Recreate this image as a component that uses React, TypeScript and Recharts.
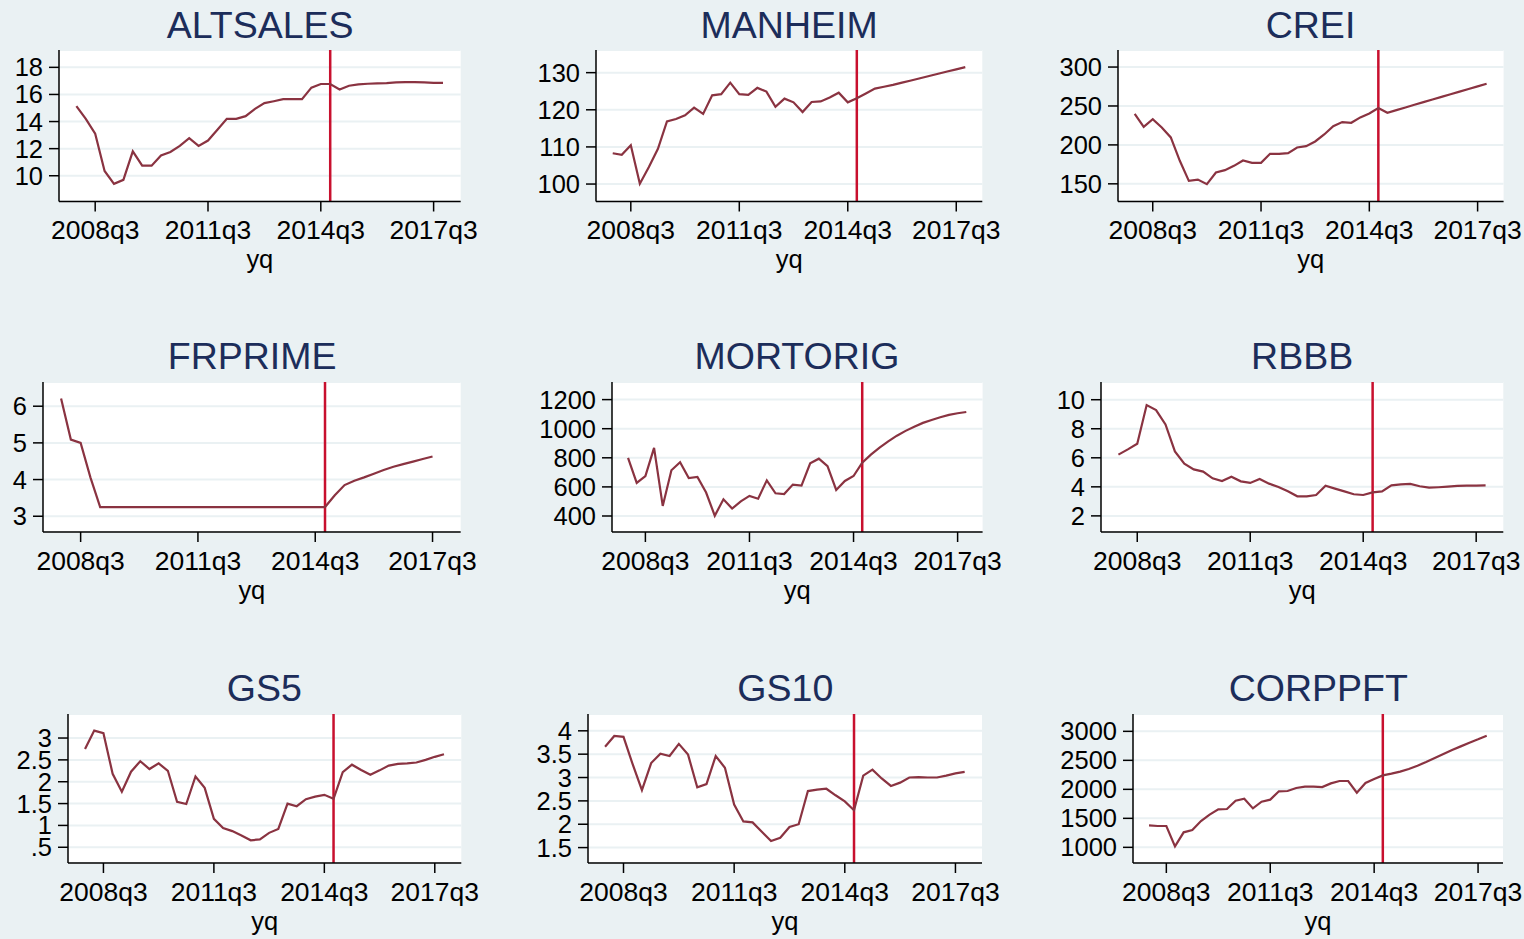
import React from "react";
import {
  LineChart,
  Line,
  XAxis,
  YAxis,
  CartesianGrid,
  ReferenceLine,
} from "recharts";

// quarterly axis, 2008q1 .. 2017q4
const QUARTERS = [
  "2008q1", "2008q2", "2008q3", "2008q4",
  "2009q1", "2009q2", "2009q3", "2009q4",
  "2010q1", "2010q2", "2010q3", "2010q4",
  "2011q1", "2011q2", "2011q3", "2011q4",
  "2012q1", "2012q2", "2012q3", "2012q4",
  "2013q1", "2013q2", "2013q3", "2013q4",
  "2014q1", "2014q2", "2014q3", "2014q4",
  "2015q1", "2015q2", "2015q3", "2015q4",
  "2016q1", "2016q2", "2016q3", "2016q4",
  "2017q1", "2017q2", "2017q3", "2017q4",
];
const X_TICKS = ["2008q3", "2011q3", "2014q3", "2017q3"];
const FORECAST_START = "2014q4";

const ALTSALES = [
  15.14, 14.2, 13.1, 10.35, 9.4, 9.7, 11.8, 10.74, 10.74, 11.5,
  11.75, 12.2, 12.77, 12.2, 12.6, 13.4, 14.2, 14.2, 14.4, 14.94,
  15.36, 15.5, 15.65, 15.65, 15.65, 16.5, 16.77, 16.77, 16.37, 16.64,
  16.74, 16.79, 16.81, 16.84, 16.89, 16.91, 16.91, 16.89, 16.86, 16.86,
];
const MANHEIM = [
  108.3, 107.9, 110.45, 100.1, 104.6, 109.5, 116.85, 117.5, 118.5, 120.6,
  118.9, 123.9, 124.2, 127.3, 124.2, 124, 125.9, 124.9, 120.8, 123,
  122, 119.4, 122.1, 122.25, 123.3, 124.6, 122, 123.1, 124.4, 125.7,
  126.2, 126.7, 127.3, 127.9, 128.5, 129.1, 129.7, 130.3, 130.9, 131.5,
];
const CREI = [
  240, 223.3, 233.1, 222.4, 209.6, 179.6, 153.8, 155.5, 149.6, 164.6,
  167.6, 173.1, 180, 177, 177, 188.6, 188.6, 189.4, 196.7, 198.4,
  204.4, 213.4, 224.1, 229.3, 228.4, 235.3, 240.4, 247.3, 241.3, 244.7,
  248.1, 251.5, 254.9, 258.3, 261.7, 265.1, 268.4, 271.8, 275.2, 278.6,
];
const FRPRIME = [
  6.21, 5.09, 5.0, 4.06, 3.25, 3.25, 3.25, 3.25, 3.25, 3.25,
  3.25, 3.25, 3.25, 3.25, 3.25, 3.25, 3.25, 3.25, 3.25, 3.25,
  3.25, 3.25, 3.25, 3.25, 3.25, 3.25, 3.25, 3.25, 3.57, 3.85,
  3.97, 4.06, 4.16, 4.26, 4.35, 4.42, 4.49, 4.56, 4.63, null,
];
const MORTORIG = [
  799, 627, 675, 868, 469, 714, 769, 661, 668, 561,
  402, 515, 451, 501, 538, 519, 645, 556, 551, 616,
  609, 762, 794, 742, 579, 641, 675, 767, 822, 870,
  913, 952, 985, 1014, 1040, 1060, 1079, 1095, 1106, 1115,
];
const RBBB = [
  6.22, 6.58, 6.97, 9.63, 9.29, 8.3, 6.44, 5.6, 5.2, 5.05,
  4.59, 4.4, 4.7, 4.38, 4.27, 4.54, 4.22, 3.99, 3.69, 3.35,
  3.35, 3.44, 4.08, 3.88, 3.69, 3.49, 3.44, 3.62, 3.69, 4.1,
  4.17, 4.2, 4.04, 3.94, 3.97, 4.01, 4.06, 4.08, 4.08, 4.1,
];
const GS5 = [
  2.75, 3.17, 3.11, 2.18, 1.77, 2.23, 2.47, 2.29, 2.42, 2.25,
  1.54, 1.49, 2.12, 1.86, 1.15, 0.94, 0.87, 0.77, 0.66, 0.68,
  0.83, 0.92, 1.5, 1.44, 1.6, 1.66, 1.7, 1.61, 2.22, 2.39,
  2.27, 2.16, 2.26, 2.37, 2.41, 2.42, 2.44, 2.5, 2.57, 2.63,
];
const GS10 = [
  3.66, 3.89, 3.87, 3.28, 2.73, 3.31, 3.51, 3.46, 3.72, 3.49,
  2.79, 2.86, 3.46, 3.21, 2.42, 2.06, 2.04, 1.84, 1.64, 1.71,
  1.94, 2.0, 2.71, 2.74, 2.76, 2.62, 2.49, 2.3, 3.04, 3.17,
  2.98, 2.82, 2.89, 3.0, 3.01, 3.0, 3.0, 3.04, 3.09, 3.12,
];
const CORPPFT = [
  1379, 1368, 1368, 1017, 1259, 1299, 1454, 1563, 1655, 1661,
  1805, 1839, 1672, 1787, 1822, 1966, 1971, 2023, 2046, 2046,
  2040, 2103, 2144, 2144, 1943, 2109, 2178, 2241, 2270, 2305,
  2351, 2408, 2471, 2540, 2609, 2678, 2741, 2805, 2862, 2925,
];

const BG = "#eaf1f3";
const TITLE_COLOR = "#1c2d5a";
const LINE_COLOR = "#8a3341";
const VLINE_COLOR = "#c8102e";
const FONT = '"Liberation Sans", Arial, Helvetica, sans-serif';
const X_TICK_FONT = 26.5;
const Y_TICK_FONT = 25.5;
const TITLE_FONT = 37.5;

const X_DOMAIN: [number, number] = [-1.85, 40.88];
const X_TICK_IDX = X_TICKS.map((q) => QUARTERS.indexOf(q));
const FORECAST_IDX = QUARTERS.indexOf(FORECAST_START);

// plot-region rows: top/bottom of the white area, title baseline
const ROWS = [
  { top: 49.5, bottom: 201, titleY: 37.5 },
  { top: 381.7, bottom: 531.7, titleY: 369 },
  { top: 714.3, bottom: 863.3, titleY: 700.5 },
];

type Panel = {
  title: string;
  values: (number | null)[];
  yTicks: number[];
  yDomain: [number, number];
  row: number;
  left: number;
  right: number;
};

const PANELS: Panel[] = [
  { title: "ALTSALES", values: ALTSALES, yTicks: [10, 12, 14, 16, 18], yDomain: [8.1, 19.28], row: 0, left: 59.3, right: 461 },
  { title: "MANHEIM", values: MANHEIM, yTicks: [100, 110, 120, 130], yDomain: [95.3, 136.1], row: 0, left: 596, right: 982.3 },
  { title: "CREI", values: CREI, yTicks: [150, 200, 250, 300], yDomain: [127.3, 321.9], row: 0, left: 1117.7, right: 1503.3 },
  { title: "FRPRIME", values: FRPRIME, yTicks: [3, 4, 5, 6], yDomain: [2.57, 6.66], row: 1, left: 43.3, right: 461 },
  { title: "MORTORIG", values: MORTORIG, yTicks: [400, 600, 800, 1000, 1200], yDomain: [290, 1321], row: 1, left: 611.7, right: 982.3 },
  { title: "RBBB", values: RBBB, yTicks: [2, 4, 6, 8, 10], yDomain: [0.89, 11.22], row: 1, left: 1101, right: 1503.3 },
  { title: "GS5", values: GS5, yTicks: [0.5, 1, 1.5, 2, 2.5, 3], yDomain: [0.14, 3.55], row: 2, left: 67.7, right: 461 },
  { title: "GS10", values: GS10, yTicks: [1.5, 2, 2.5, 3, 3.5, 4], yDomain: [1.17, 4.36], row: 2, left: 588.3, right: 982.3 },
  { title: "CORPPFT", values: CORPPFT, yTicks: [1000, 1500, 2000, 2500, 3000], yDomain: [730, 3299], row: 2, left: 1133.3, right: 1503.3 },
];

const Y_AXIS_W = 90;
const X_AXIS_H = 80;
const PAD_TOP = 10;
const PAD_RIGHT = 60;

// Stata drops the leading zero: 0.5 -> ".5"
const stataNum = (v: number) => (v > 0 && v < 1 ? String(v).slice(1) : String(v));

const xTickStyle = { fill: "#000", fontSize: X_TICK_FONT, fontFamily: FONT };
const yTickStyle = { fill: "#000", fontSize: Y_TICK_FONT, fontFamily: FONT };
const axisStroke = { stroke: "#000", strokeWidth: 1.5 };

function SeriesPanel({ p }: { p: Panel }) {
  const row = ROWS[p.row];
  const plotW = p.right - p.left;
  const plotH = row.bottom - row.top;
  const data = QUARTERS.map((q, t) => ({ t, q, v: p.values[t] ?? null }));

  return (
    <div style={{ position: "absolute", left: p.left - Y_AXIS_W, top: row.top - PAD_TOP }}>
      <LineChart
        width={Y_AXIS_W + plotW + PAD_RIGHT}
        height={PAD_TOP + plotH + X_AXIS_H}
        data={data}
        margin={{ top: PAD_TOP, right: PAD_RIGHT, bottom: 0, left: 0 }}
      >
        <CartesianGrid vertical={false} fill="#ffffff" stroke={BG} strokeWidth={2} />
        <XAxis
          type="number"
          dataKey="t"
          domain={X_DOMAIN}
          allowDataOverflow
          ticks={X_TICK_IDX}
          interval={0}
          tickFormatter={(t: number) => QUARTERS[t]}
          height={X_AXIS_H}
          tickSize={10}
          tickMargin={9}
          axisLine={axisStroke}
          tickLine={axisStroke}
          tick={xTickStyle}
          label={{ value: "yq", position: "insideBottom", offset: 13, fill: "#000", fontSize: Y_TICK_FONT, fontFamily: FONT }}
        />
        <YAxis
          type="number"
          domain={p.yDomain}
          allowDataOverflow
          ticks={p.yTicks}
          interval={0}
          tickFormatter={stataNum}
          width={Y_AXIS_W}
          tickSize={10}
          tickMargin={6}
          axisLine={axisStroke}
          tickLine={axisStroke}
          tick={yTickStyle}
        />
        <ReferenceLine x={FORECAST_IDX} stroke={VLINE_COLOR} strokeWidth={2.5} />
        <Line
          type="linear"
          dataKey="v"
          stroke={LINE_COLOR}
          strokeWidth={2.2}
          dot={false}
          activeDot={false}
          isAnimationActive={false}
        />
      </LineChart>
    </div>
  );
}

export default function App() {
  return (
    <div
      style={{
        position: "absolute",
        left: 0,
        top: 0,
        width: 1524,
        height: 939,
        background: BG,
        overflow: "hidden",
        fontFamily: FONT,
      }}
    >
      <svg width={1524} height={939} style={{ position: "absolute", left: 0, top: 0 }}>
        {PANELS.map((p) => (
          <text
            key={p.title}
            x={(p.left + p.right) / 2}
            y={ROWS[p.row].titleY}
            textAnchor="middle"
            fill={TITLE_COLOR}
            fontSize={TITLE_FONT}
            fontFamily={FONT}
          >
            {p.title}
          </text>
        ))}
      </svg>
      {PANELS.map((p) => (
        <SeriesPanel key={p.title} p={p} />
      ))}
    </div>
  );
}
